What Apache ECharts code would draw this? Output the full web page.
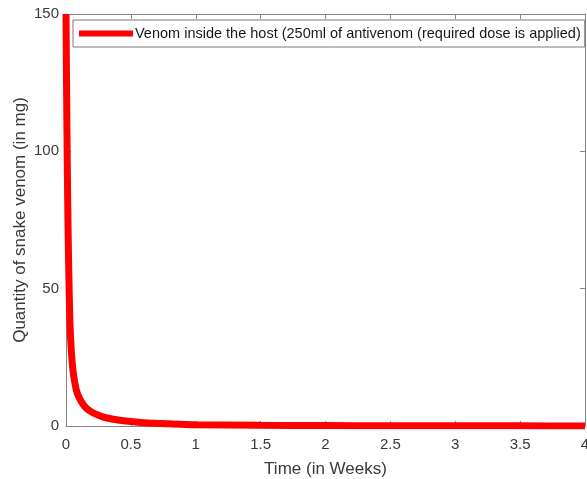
<!DOCTYPE html>
<html>
<head>
<meta charset="utf-8">
<script src="https://cdn.jsdelivr.net/npm/echarts@6/dist/echarts.min.js"></script>
<style>
html,body{margin:0;padding:0;background:#fff;}
#c{width:587px;height:479px;}
</style>
</head>
<body>
<div id="c"></div>
<script>
const seriesName = 'Venom inside the host (250ml of antivenom (required dose is applied)';
const timeWeeks = [0, 0.005, 0.01, 0.015, 0.02, 0.025, 0.03, 0.04, 0.05, 0.06, 0.08, 0.1, 0.13, 0.16, 0.2, 0.25, 0.3, 0.4, 0.5, 0.6, 0.8, 1, 1.5, 2, 2.5, 3, 3.5, 4];
const venomMg = [150, 120, 95, 75, 60, 48, 38, 28, 22, 18, 13, 10.5, 8, 6.3, 5, 3.9, 3.1, 2.2, 1.6, 1.2, 0.8, 0.5, 0.25, 0.15, 0.1, 0.07, 0.05, 0.04];
const xTitle = 'Time (in Weeks)';
const yTitle = 'Quantity of snake venom (in mg)';

const axisColor = '#868686';
const labelColor = '#3a3a3a';
const font = 'Liberation Sans, Arial, Helvetica, sans-serif';

const chart = echarts.init(document.getElementById('c'), null, {renderer: 'canvas'});
const data = timeWeeks.map((t, i) => [t, venomMg[i]]);

const xBase = {
  type: 'value', min: 0, max: 4, interval: 0.5,
  splitLine: {show: false},
  axisLine: {show: true, onZero: false, lineStyle: {color: axisColor, width: 1}},
  axisTick: {show: true, inside: true, length: 5, lineStyle: {color: axisColor}},
};
const yBase = {
  type: 'value', min: 0, max: 150, interval: 50,
  splitLine: {show: false},
  axisLine: {show: true, onZero: false, lineStyle: {color: axisColor, width: 1}},
  axisTick: {show: true, inside: true, length: 5, lineStyle: {color: axisColor}},
};

chart.setOption({
  animation: false,
  backgroundColor: '#fff',
  grid: {left: 66, right: 2, top: 14, bottom: 53, containLabel: false, outerBoundsMode: 'none'},
  legend: {
    show: true,
    data: [{name: seriesName, icon: 'rect'}],
    left: 73, top: 20,
    padding: [6, 4, 6, 6],
    itemWidth: 54, itemHeight: 6, itemGap: 0,
    borderColor: '#7a7a7a', borderWidth: 1,
    backgroundColor: '#fff',
    textStyle: {fontFamily: font, fontSize: 14.5, color: '#1a1a1a', padding: [0, 0, 0, -3]}
  },
  xAxis: [
    Object.assign({}, xBase, {
      position: 'bottom',
      name: xTitle, nameLocation: 'middle', nameGap: 34.5, nameMoveOverlap: false,
      nameTextStyle: {fontFamily: font, fontSize: 17, color: labelColor},
      axisLabel: {show: true, margin: 11.5, fontFamily: font, fontSize: 15, color: labelColor,
        hideOverlap: false, showMaxLabel: true, showMinLabel: true,
        formatter: v => String(v)}
    }),
    Object.assign({}, xBase, {position: 'top', axisLabel: {show: false}})
  ],
  yAxis: [
    Object.assign({}, yBase, {
      position: 'left',
      name: yTitle, nameLocation: 'middle', nameGap: 37.5, nameMoveOverlap: false,
      nameTextStyle: {fontFamily: font, fontSize: 17, color: labelColor},
      axisLabel: {show: true, margin: 7, fontFamily: font, fontSize: 15, color: labelColor}
    }),
    Object.assign({}, yBase, {position: 'right', axisLabel: {show: false}})
  ],
  series: [{
    name: seriesName,
    type: 'line',
    xAxisIndex: 0, yAxisIndex: 0,
    data: data,
    showSymbol: false,
    smooth: 0.3,
    lineStyle: {color: '#ff0000', width: 7},
    itemStyle: {color: '#ff0000'},
    clip: true,
    z: 5
  }]
});
</script>
</body>
</html>
